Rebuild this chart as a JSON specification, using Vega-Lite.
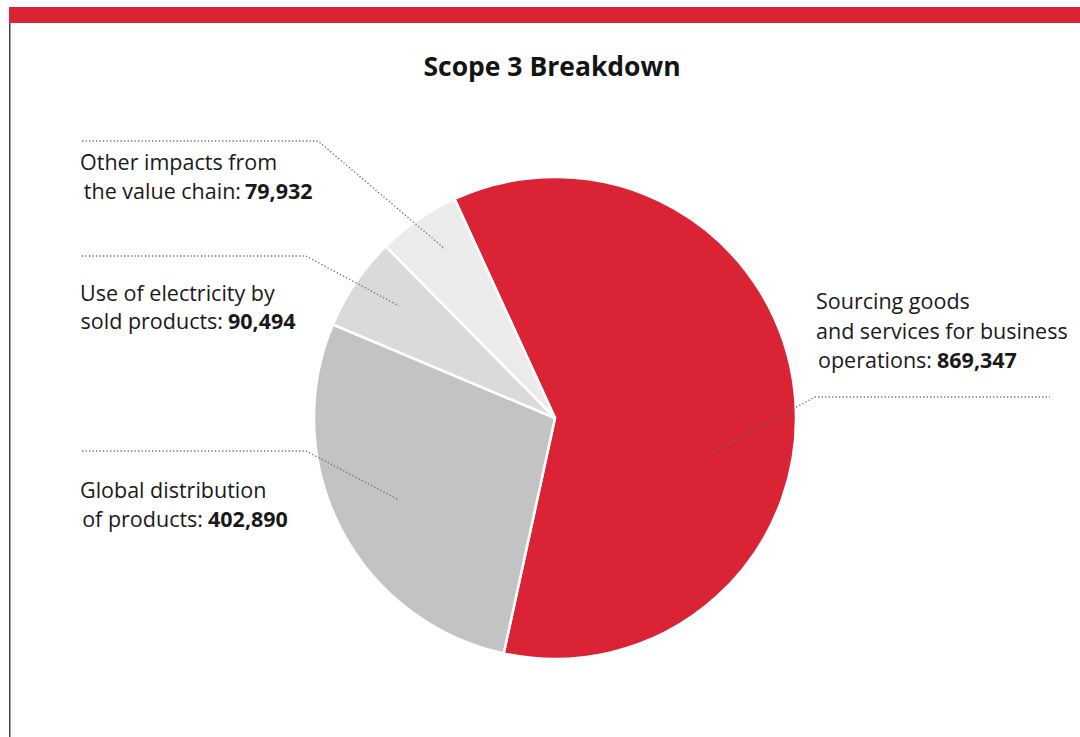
{
  "$schema": "https://vega.github.io/schema/vega-lite/v6.json",
  "width": 1080,
  "height": 737,
  "autosize": {"type": "fit", "contains": "padding"},
  "padding": 0,
  "background": "white",
  "config": {"view": {"stroke": null}},
  "datasets": {
    "decor": [
      {"kind": "bar", "x": 9, "x2": 1080, "y": 7, "y2": 23},
      {"kind": "border", "x": 9, "x2": 10.5, "y": 23, "y2": 737}
    ],
    "slices": [
      {"cat": "Sourcing goods and services for business operations", "value": 869347, "ord": 1},
      {"cat": "Global distribution of products", "value": 402890, "ord": 2},
      {"cat": "Use of electricity by sold products", "value": 90494, "ord": 3},
      {"cat": "Other impacts from the value chain", "value": 79932, "ord": 4}
    ],
    "leaders": [
      {"id": "other", "seq": 1, "x": 82, "y": 141},
      {"id": "other", "seq": 2, "x": 318, "y": 141},
      {"id": "other", "seq": 3, "x": 445, "y": 249},
      {"id": "elec", "seq": 1, "x": 82, "y": 256},
      {"id": "elec", "seq": 2, "x": 306, "y": 256},
      {"id": "elec", "seq": 3, "x": 399, "y": 306},
      {"id": "dist", "seq": 1, "x": 82, "y": 451},
      {"id": "dist", "seq": 2, "x": 306, "y": 451},
      {"id": "dist", "seq": 3, "x": 399, "y": 500},
      {"id": "src", "seq": 1, "x": 713, "y": 452},
      {"id": "src", "seq": 2, "x": 815, "y": 397},
      {"id": "src", "seq": 3, "x": 1050, "y": 397}
    ],
    "texts": [
      {"kind": "title", "t": "Scope 3 Breakdown", "x": 552, "y": 76},
      {"kind": "left", "t": "Other impacts from", "x": 80, "y": 170},
      {"kind": "right", "t": "the value chain:", "x": 241, "y": 199},
      {"kind": "bold", "t": "79,932", "x": 245, "y": 199},
      {"kind": "left", "t": "Use of electricity by", "x": 80, "y": 301},
      {"kind": "right", "t": "sold products:", "x": 223, "y": 329},
      {"kind": "bold", "t": "90,494", "x": 228, "y": 329},
      {"kind": "left", "t": "Global distribution", "x": 80, "y": 498},
      {"kind": "right", "t": "of products:", "x": 203, "y": 527},
      {"kind": "bold", "t": "402,890", "x": 208, "y": 527},
      {"kind": "left", "t": "Sourcing goods", "x": 816, "y": 309},
      {"kind": "left", "t": "and services for business", "x": 816, "y": 339},
      {"kind": "right", "t": "operations:", "x": 932, "y": 368},
      {"kind": "bold", "t": "869,347", "x": 937, "y": 368}
    ]
  },
  "encoding": {
    "x": {"type": "quantitative", "scale": {"domain": [0, 1080], "nice": false, "zero": false}, "axis": null},
    "y": {"type": "quantitative", "scale": {"domain": [0, 737], "nice": false, "zero": false, "reverse": true}, "axis": null}
  },
  "layer": [
    {
      "data": {"name": "decor"},
      "transform": [{"filter": "datum.kind === 'bar'"}],
      "mark": {"type": "rect", "color": "#da2334"},
      "encoding": {
        "x": {"field": "x", "type": "quantitative"},
        "x2": {"field": "x2"},
        "y": {"field": "y", "type": "quantitative"},
        "y2": {"field": "y2"}
      }
    },
    {
      "data": {"name": "decor"},
      "transform": [{"filter": "datum.kind === 'border'"}],
      "mark": {"type": "rect", "color": "#444444"},
      "encoding": {
        "x": {"field": "x", "type": "quantitative"},
        "x2": {"field": "x2"},
        "y": {"field": "y", "type": "quantitative"},
        "y2": {"field": "y2"}
      }
    },
    {
      "data": {"name": "slices"},
      "mark": {"type": "arc", "outerRadius": 241, "stroke": "white", "strokeWidth": 2.5},
      "encoding": {
        "theta": {"field": "value", "type": "quantitative", "stack": true, "scale": {"range": [-0.43, 5.8532]}},
        "order": {"field": "ord", "type": "quantitative"},
        "color": {
          "field": "cat",
          "type": "nominal",
          "scale": {
            "domain": ["Sourcing goods and services for business operations", "Global distribution of products", "Use of electricity by sold products", "Other impacts from the value chain"],
            "range": ["#da2334", "#c3c3c3", "#dadada", "#ebebeb"]
          },
          "legend": null
        },
        "x": {"datum": 555, "type": "quantitative"},
        "y": {"datum": 418, "type": "quantitative"}
      }
    },
    {
      "data": {"name": "leaders"},
      "mark": {"type": "line", "color": "#6e6e6e", "strokeWidth": 1.3, "strokeDash": [1.3, 2.2], "interpolate": "linear"},
      "encoding": {
        "x": {"field": "x", "type": "quantitative"},
        "y": {"field": "y", "type": "quantitative"},
        "detail": {"field": "id"},
        "order": {"field": "seq", "type": "quantitative"}
      }
    },
    {
      "data": {"name": "texts"},
      "transform": [{"filter": "datum.kind === 'title'"}],
      "mark": {"type": "text", "font": "Open Sans", "fontSize": 26.5, "fontWeight": "bold", "align": "center", "baseline": "alphabetic", "color": "#141414"},
      "encoding": {
        "x": {"field": "x", "type": "quantitative"},
        "y": {"field": "y", "type": "quantitative"},
        "text": {"field": "t"}
      }
    },
    {
      "data": {"name": "texts"},
      "transform": [{"filter": "datum.kind === 'left'"}],
      "mark": {"type": "text", "font": "Open Sans", "fontSize": 21.5, "align": "left", "baseline": "alphabetic", "color": "#1a1a1a"},
      "encoding": {
        "x": {"field": "x", "type": "quantitative"},
        "y": {"field": "y", "type": "quantitative"},
        "text": {"field": "t"}
      }
    },
    {
      "data": {"name": "texts"},
      "transform": [{"filter": "datum.kind === 'right'"}],
      "mark": {"type": "text", "font": "Open Sans", "fontSize": 21.5, "align": "right", "baseline": "alphabetic", "color": "#1a1a1a"},
      "encoding": {
        "x": {"field": "x", "type": "quantitative"},
        "y": {"field": "y", "type": "quantitative"},
        "text": {"field": "t"}
      }
    },
    {
      "data": {"name": "texts"},
      "transform": [{"filter": "datum.kind === 'bold'"}],
      "mark": {"type": "text", "font": "Open Sans", "fontSize": 21.5, "fontWeight": "bold", "align": "left", "baseline": "alphabetic", "color": "#1a1a1a"},
      "encoding": {
        "x": {"field": "x", "type": "quantitative"},
        "y": {"field": "y", "type": "quantitative"},
        "text": {"field": "t"}
      }
    }
  ]
}
